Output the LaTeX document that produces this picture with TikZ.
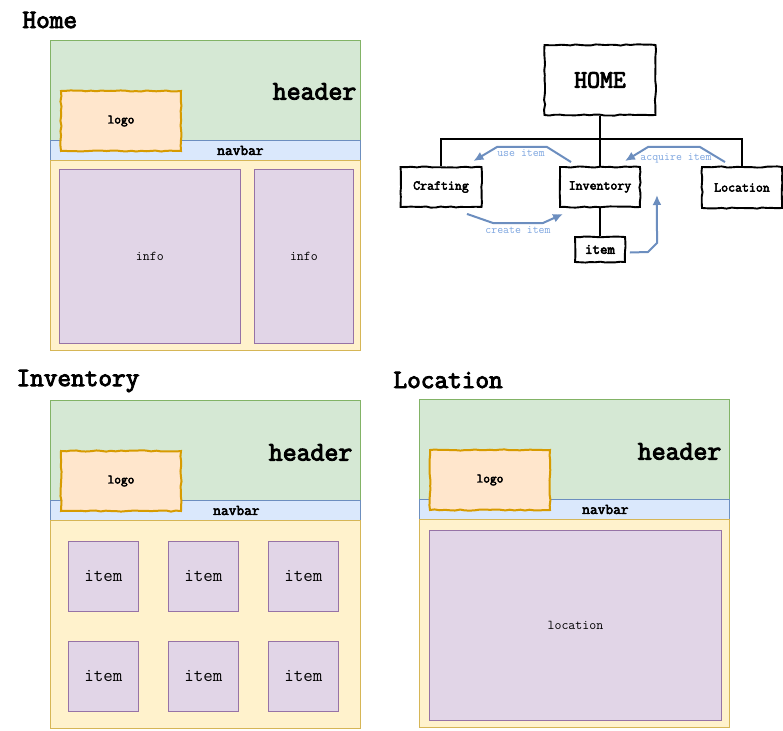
\documentclass[tikz,border=0pt]{standalone}
\usepackage{fontspec}
\usepackage{tikz}
\usetikzlibrary{shapes,arrows.meta,positioning,calc,decorations.pathmorphing}
\newfontfamily\heavymono{Latin Modern Mono}[FakeBold=3.5]

\definecolor{hdrfill}{HTML}{D5E8D4}
\definecolor{hdrline}{HTML}{82B366}
\definecolor{navfill}{HTML}{DAE8FC}
\definecolor{navline}{HTML}{6C8EBF}
\definecolor{bodyfill}{HTML}{FFF2CC}
\definecolor{bodyline}{HTML}{D6B656}
\definecolor{boxfill}{HTML}{E1D5E7}
\definecolor{boxline}{HTML}{9673A6}
\definecolor{logofill}{HTML}{FFE6CC}
\definecolor{logoline}{HTML}{D79B00}
\definecolor{flowline}{HTML}{6C8EBF}
\definecolor{flowtext}{HTML}{7EA6E0}

\tikzset{
    pagebox/.style={draw, rectangle, anchor=north west, inner sep=0pt, line width=0.8pt},
    headerbox/.style={pagebox, fill=hdrfill, draw=hdrline, minimum width=310pt, minimum height=100pt},
    navbox/.style={pagebox, fill=navfill, draw=navline, minimum width=310pt, minimum height=20pt},
    bodybox/.style={pagebox, fill=bodyfill, draw=bodyline, minimum width=310pt},
    infobox/.style={pagebox, fill=boxfill, draw=boxline},
    sketchy/.style={decorate, decoration={random steps, segment length=5pt, amplitude=0.6pt}},
    logobox/.style={pagebox, sketchy, fill=logofill, draw=logoline, line width=2pt,
        minimum width=120pt, minimum height=60pt, font=\heavymono\fontsize{13}{15}\selectfont},
    treebox/.style={draw, rectangle, sketchy, fill=white, line width=1.9pt, inner sep=0pt,
        font=\heavymono\fontsize{13.5}{15}\selectfont},
    titletext/.style={anchor=west, font=\heavymono\fontsize{26.5}{29}\selectfont},
    headertext/.style={anchor=east, font=\heavymono\fontsize{27}{29}\selectfont},
    navtext/.style={font=\heavymono\fontsize{15}{17}\selectfont},
    smalltext/.style={font=\ttfamily\fontsize{13.5}{15}\selectfont},
    flow/.style={draw=flowline, line width=2pt, -{Latex[length=10pt,width=9pt]}},
    flowlabel/.style={text=flowtext, font=\ttfamily\fontsize{11.5}{13}\selectfont, inner sep=1pt}
}

\begin{document}
\begin{tikzpicture}[x=1pt, y=-1pt]
    \pgfmathsetseed{11}
    \useasboundingbox[fill=white] (0,0) rectangle (783,730);

    % Home page
    \node[titletext] (hometitle) at (19,20) {Home};
    \node[headerbox] (hhead) at (50,40) {};
    \node[navbox] (hnav) at (50,140) {};
    \node[bodybox, minimum height=190pt] (hbody) at (50,160) {};
    \node[infobox, minimum width=181pt, minimum height=174pt, smalltext] (hinfoa) at (59,169) {info};
    \node[infobox, minimum width=99pt, minimum height=174pt, smalltext] (hinfob) at (254,169) {info};
    \node[headertext] at ($(hhead.east)+(-1,1)$) {header};
    \node[navtext] at ($(hnav.center)+(35,0)$) {navbar};
    \node[logobox] (hlogo) at (60,90) {logo};

    % Inventory page
    \node[titletext] (invtitle) at (13,381) {Inventory};
    \node[headerbox] (ihead) at (50,400) {};
    \node[navbox] (inav) at (50,500) {};
    \node[bodybox, minimum height=208pt] (ibody) at (50,520) {};
    \foreach \col in {0,1,2}
        \foreach \row in {0,1}
            \node[infobox, minimum width=70pt, minimum height=70pt,
                  font=\ttfamily\fontsize{18.5}{20}\selectfont] (icell-\col-\row)
                at ({68+100*\col},{541+100*\row}) {item};
    \node[headertext] at ($(ihead.east)+(-5,2)$) {header};
    \node[navtext] at ($(inav.center)+(31,0)$) {navbar};
    \node[logobox] (ilogo) at (60,450) {logo};

    % Location page
    \node[titletext] (loctitle) at (390,380) {Location};
    \node[headerbox] (lhead) at (419,399) {};
    \node[navbox] (lnav) at (419,499) {};
    \node[bodybox, minimum height=208pt] (lbody) at (419,519) {};
    \node[infobox, minimum width=292pt, minimum height=190pt, smalltext] (lmain) at (429,530) {location};
    \node[headertext] at ($(lhead.east)+(-5,2)$) {header};
    \node[navtext] at ($(lnav.center)+(31,0)$) {navbar};
    \node[logobox] (llogo) at (429,449) {logo};

    % site map
    \node[treebox, minimum width=111pt, minimum height=70pt,
          font=\heavymono\fontsize{25}{27}\selectfont] (home) at (600,80) {HOME};
    \node[treebox, minimum width=81pt, minimum height=40pt] (craft) at (441,187) {Crafting};
    \node[treebox, minimum width=80pt, minimum height=40pt] (inv) at (600,187) {Inventory};
    \node[treebox, minimum width=80pt, minimum height=41pt] (loc) at (742,187.5) {Location};
    \node[treebox, minimum width=50pt, minimum height=25pt, font=\heavymono\fontsize{14.5}{16}\selectfont] (item) at (600,249.5) {item};
    \coordinate (bus) at ($(home.south)+(0,23)$);

    \draw[line width=1.9pt] (craft.north) |- (bus) -| (loc.north);
    \draw[line width=1.9pt] (home.south) -- (inv.north);
    \draw[line width=1.9pt] (inv.south) -- (item.north);

    \draw[flow] ($(inv.north)+(-29,-4)$) -- (547,147) -- (497,147) -- ($(craft.north east)+(-9,-5)$);
    \node[flowlabel] at (521,153) {use item};
    \draw[flow] ($(loc.north)+(-17,-4)$) -- (700,147) -- (648,147) -- ($(inv.north east)+(-16,-5)$);
    \node[flowlabel] at (676,158) {acquire item};
    \draw[flow] ($(craft.south)+(26,6)$) -- (493,223) -- (543,223) -- ($(inv.south west)+(4,6)$);
    \node[flowlabel] at (518,230) {create item};
    \draw[flow] ($(item.east)+(4,3)$) -- (648,252) -- (657,243) -- ($(inv.east)+(16,8)$);
\end{tikzpicture}
\end{document}
